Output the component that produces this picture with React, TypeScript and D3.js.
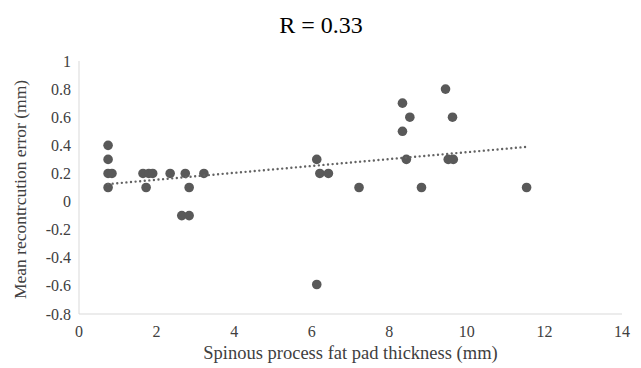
import { useMemo } from "react";
import { scaleLinear } from "d3";

const WIDTH = 641;
const HEIGHT = 368;
const PLOT = { left: 79, right: 622, top: 61, bottom: 314 };

const TITLE = "R = 0.33";
const X_LABEL = "Spinous process fat pad thickness (mm)";
const Y_LABEL = "Mean recontrcution error (mm)";

const X_TICKS = [0, 2, 4, 6, 8, 10, 12, 14];
const Y_TICKS = [-0.8, -0.6, -0.4, -0.2, 0, 0.2, 0.4, 0.6, 0.8, 1];

// fat pad thickness (mm) and reconstruction error (mm)
const thickness = [
  0.75, 0.75, 0.75, 0.85, 0.75, 1.65, 1.8, 1.9, 1.73, 2.35, 2.74, 2.84, 3.22, 2.65, 2.84,
  6.13, 6.21, 6.43, 7.22, 6.13, 9.45, 8.34, 8.53, 9.63, 8.34, 8.44, 9.52, 9.65, 8.83, 11.54
];
const error = [
  0.4, 0.3, 0.2, 0.2, 0.1, 0.2, 0.2, 0.2, 0.1, 0.2, 0.2, 0.1, 0.2, -0.1, -0.1,
  0.3, 0.2, 0.2, 0.1, -0.59, 0.8, 0.7, 0.6, 0.6, 0.5, 0.3, 0.3, 0.3, 0.1, 0.1
];

const FONT = "'Liberation Serif', 'DejaVu Serif', 'Times New Roman', serif";

export default function App() {
  const x = useMemo(() => scaleLinear().domain([0, 14]).range([PLOT.left, PLOT.right]), []);
  const y = useMemo(() => scaleLinear().domain([-0.8, 1]).range([PLOT.bottom, PLOT.top]), []);

  // least squares trendline over the data range
  const trend = useMemo(() => {
    const n = thickness.length;
    const mx = thickness.reduce((a, b) => a + b, 0) / n;
    const my = error.reduce((a, b) => a + b, 0) / n;
    let sxy = 0;
    let sxx = 0;
    thickness.forEach((v, i) => {
      sxy += (v - mx) * (error[i] - my);
      sxx += (v - mx) * (v - mx);
    });
    const slope = sxy / sxx;
    const x0 = Math.min(...thickness);
    const x1 = Math.max(...thickness);
    return { x0, x1, y0: my + slope * (x0 - mx), y1: my + slope * (x1 - mx) };
  }, []);

  return (
    <svg
      width={WIDTH}
      height={HEIGHT}
      style={{ position: "absolute", top: 0, left: 0, display: "block", background: "#fff", fontFamily: FONT }}
    >
      <rect width={WIDTH} height={HEIGHT} fill="#fff" />
      <text x={321} y={33} textAnchor="middle" fontSize={24} fill="#000">
        {TITLE}
      </text>

      <line x1={PLOT.left} x2={PLOT.left} y1={PLOT.top} y2={PLOT.bottom} stroke="#d9d9d9" strokeWidth={1} />
      <line x1={PLOT.left} x2={PLOT.right} y1={PLOT.bottom} y2={PLOT.bottom} stroke="#d9d9d9" strokeWidth={1} />

      {Y_TICKS.map((t) => (
        <text key={t} x={PLOT.left - 8} y={y(t)} dy="0.35em" textAnchor="end" fontSize={16} fill="#404040">
          {t}
        </text>
      ))}
      {X_TICKS.map((t) => (
        <text key={t} x={x(t)} y={PLOT.bottom + 23} textAnchor="middle" fontSize={16} fill="#404040">
          {t}
        </text>
      ))}

      <text x={x(7)} y={359} textAnchor="middle" fontSize={18.5} fill="#404040">
        {X_LABEL}
      </text>
      <text
        transform={`translate(26, ${(PLOT.top + PLOT.bottom) / 2 + 2}) rotate(-90)`}
        textAnchor="middle"
        fontSize={17.5}
        fill="#404040"
      >
        {Y_LABEL}
      </text>

      {thickness.map((v, i) => (
        <circle key={i} cx={x(v)} cy={y(error[i])} r={4.8} fill="#595959" />
      ))}

      <line
        x1={x(trend.x0)}
        y1={y(trend.y0)}
        x2={x(trend.x1)}
        y2={y(trend.y1)}
        stroke="#636363"
        strokeWidth={2.4}
        strokeDasharray="0 4.6"
        strokeLinecap="round"
      />
    </svg>
  );
}
